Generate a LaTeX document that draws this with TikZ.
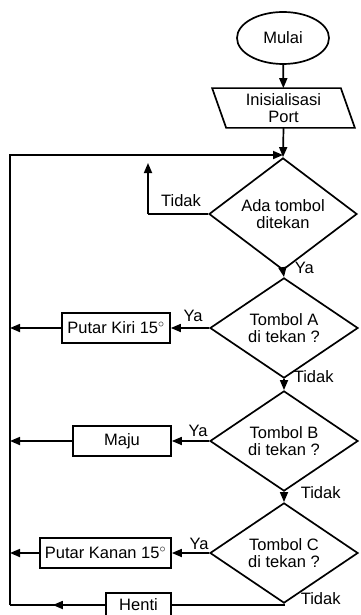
\documentclass[tikz,border=0pt]{standalone}
\usepackage{fontspec}
\setmainfont{Liberation Sans}
\usetikzlibrary{shapes.geometric,arrows.meta,decorations.markings}
\begin{document}
\begin{tikzpicture}[x=1pt,y=-1pt,
  font=\fontsize{16.5}{16.5}\selectfont,
  line width=1.7pt,
  arr/.style={-{Triangle[length=10pt,width=8pt]}},
  midarr/.style={postaction={decorate},decoration={markings,mark=at position 0.55 with {\arrow{Triangle[length=10pt,width=8pt]}}}},
  box/.style={draw,rectangle,minimum height=30,inner sep=0,align=center},
  dec/.style={draw,diamond,minimum width=148,minimum height=78,inner sep=0,align=center},
  lbl/.style={inner sep=0},
  ]
\useasboundingbox (0,0) rectangle (360,615);
\node[draw,ellipse,minimum width=92,minimum height=52,inner sep=0] (start) at (283,38) {Mulai};
\node[minimum width=127,minimum height=38,inner sep=0,align=center] (init) at (283.5,108) {Inisialisasi\\Port};
\draw ([xshift=-7pt]init.north west) -- ([xshift=-7pt]init.north east) -- ([xshift=7pt]init.south east) -- ([xshift=7pt]init.south west) -- cycle;
\node[dec] (d1) at (283,214) {Ada tombol\\ditekan};
\node[dec] (dA) at (284,328) {Tombol A\\di tekan ?};
\node[dec] (dB) at (284,441) {Tombol B\\di tekan ?};
\node[dec] (dC) at (284,553) {Tombol C\\di tekan ?};
\node[box,minimum width=108] (kiri) at (116,328) {Putar Kiri 15$^{\circ}$};
\node[box,minimum width=98] (maju) at (122,441) {Maju};
\node[box,minimum width=131] (kanan) at (105.5,553) {Putar Kanan 15$^{\circ}$};
\node[box,minimum width=65,minimum height=24] (henti) at (138.5,605) {Henti};
\coordinate (join) at (283,155);
\coordinate (tl) at (10,155);
\coordinate (bl) at (10,605);
\coordinate (loop) at (148,214);
\coordinate (looptop) at (148,163);
% connectors
\draw[arr] (start) -- (init);
\draw[arr] (init.south) -- (d1.north);
\draw[arr] (bl) -- (tl) -- (join);
\draw (d1.west) -- (loop);
\draw[arr] (loop) -- (looptop);
\draw[arr] (d1.south) -- (dA.north);
\draw[arr] (dA.south) -- (dB.north);
\draw[arr] (dB.south) -- (dC.north);
\draw[arr] (dA.west) -- (kiri.east);
\draw[arr] (dB.west) -- (maju.east);
\draw[arr] (dC.west) -- (kanan.east);
\draw[arr] (kiri.west) -- (kiri.west -| tl);
\draw[arr] (maju.west) -- (maju.west -| tl);
\draw[arr] (kanan.west) -- (kanan.west -| tl);
\draw (dC.south) -- (dC.south |- bl) -- (henti.east);
\draw[midarr] (henti.west) -- (bl);
% labels
\node[lbl] at (181,201) {Tidak};
\node[lbl,anchor=west] at (294,268) {Ya};
\node[lbl] at (193,316) {Ya};
\node[lbl,anchor=west] at (293,377) {Tidak};
\node[lbl] at (198,431) {Ya};
\node[lbl,anchor=west] at (300,493) {Tidak};
\node[lbl] at (199,544) {Ya};
\node[lbl,anchor=west] at (300,599) {Tidak};
\end{tikzpicture}
\end{document}
